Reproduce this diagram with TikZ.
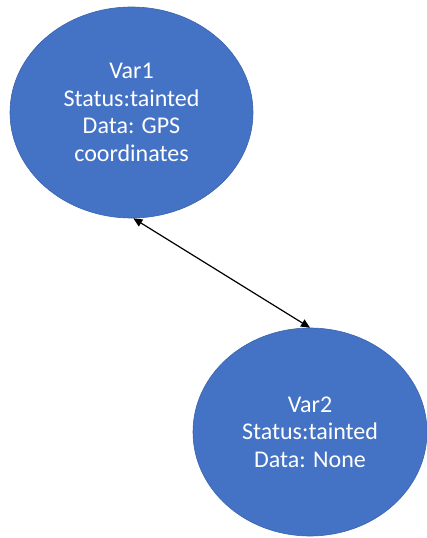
\documentclass[tikz,border=0pt]{standalone}
\usepackage{fontspec}
\setmainfont{Carlito}
\usetikzlibrary{shapes.geometric,arrows.meta}
\definecolor{officeblue}{HTML}{4472C4}
\definecolor{officeedge}{HTML}{3A63AE}
\tikzset{
  varnode/.style={ellipse, fill=officeblue, draw=officeedge, line width=0.6pt, inner sep=0pt,
    text=white, align=center, font=\fontsize{24}{27.5}\selectfont},
  link/.style={line width=1.2pt, black, {Triangle[length=9pt,width=8pt]}-{Triangle[length=9pt,width=8pt]}}
}
\begin{document}
\begin{tikzpicture}[x=1pt,y=-1pt]
\useasboundingbox (0,0) rectangle (427,538);
\node[varnode, minimum width=243pt, minimum height=211pt] (a) at (131.5,112.5)
  {Var1\\Status:tainted\\Data: GPS\\coordinates};
\node[varnode, minimum width=234pt, minimum height=208pt] (b) at (310,432)
  {Var2\\Status:tainted\\Data: None};
\draw[link] (a.-89) -- (b.90);
\end{tikzpicture}
\end{document}
